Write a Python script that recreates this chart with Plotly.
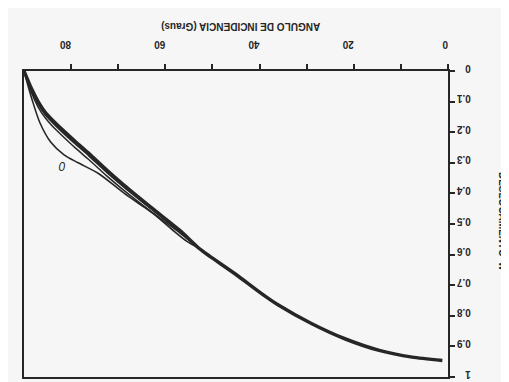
import plotly.graph_objects as go

# Curve data: angle of incidence (degrees) and displacement w
angle_a = [90, 88.5, 87, 85.5, 84, 82, 79, 76.2, 72.5, 68.8, 62.7, 57, 52.8, 50.6, 45, 39.8, 36.1, 29, 21.9, 14.6, 7.6, 1.2]
w_a     = [0, 0.055, 0.10, 0.135, 0.16, 0.19, 0.232, 0.27, 0.323, 0.373, 0.45, 0.52, 0.58, 0.605, 0.665, 0.725, 0.764, 0.825, 0.875, 0.913, 0.935, 0.946]

angle_a2 = [90, 88.5, 87, 85.5, 84, 82, 79, 76.2, 72.5, 68.8, 62.7, 57, 52.8]
w_a2     = [0, 0.06, 0.108, 0.143, 0.168, 0.198, 0.24, 0.278, 0.331, 0.38, 0.455, 0.523, 0.58]

angle_b = [90, 88.5, 87, 85.5, 84, 82, 79, 76.2, 72.5, 68.8, 62.7, 57, 52.8]
w_b     = [0, 0.068, 0.118, 0.153, 0.18, 0.21, 0.253, 0.29, 0.342, 0.39, 0.463, 0.528, 0.58]

angle_c = [90, 89.2, 88.3, 86.6, 84.3, 81.5, 78.5, 74.2, 68.7, 64.5, 61.6, 57.8, 55.5, 52.8]
w_c     = [0, 0.045, 0.093, 0.17, 0.233, 0.274, 0.3, 0.335, 0.4, 0.445, 0.478, 0.528, 0.556, 0.58]

x_ticks = [0, 10, 20, 30, 40, 50, 60, 70, 80]
x_ticktext = ["0", "", "20", "", "40", "", "60", "", "80"]
y_ticks = [0, 0.1, 0.2, 0.3, 0.4, 0.5, 0.6, 0.7, 0.8, 0.9, 1.0]
y_ticktext = ["0", "0.1", "0.2", "0.3", "0.4", "0.5", "0.6", "0.7", "0.8", "0.9", "1"]

ink = "#262626"
bg = "#f6f6f6"
font_family = "Liberation Sans, Arial, sans-serif"

fig = go.Figure()
fig.add_trace(go.Scatter(x=angle_c, y=w_c, mode="lines",
                         line=dict(color=ink, width=1.6, shape="spline", smoothing=0.8),
                         showlegend=False, hoverinfo="skip"))
fig.add_trace(go.Scatter(x=angle_b, y=w_b, mode="lines",
                         line=dict(color=ink, width=1.5, shape="spline", smoothing=0.6),
                         showlegend=False, hoverinfo="skip"))
fig.add_trace(go.Scatter(x=angle_a2, y=w_a2, mode="lines",
                         line=dict(color=ink, width=1.5, shape="spline", smoothing=0.6),
                         showlegend=False, hoverinfo="skip"))
fig.add_trace(go.Scatter(x=angle_a, y=w_a, mode="lines",
                         line=dict(color=ink, width=3.5, shape="spline", smoothing=0.6),
                         showlegend=False, hoverinfo="skip"))

fig.update_layout(
    width=509, height=382,
    margin=dict(l=16, r=69, t=63, b=10),
    paper_bgcolor=bg, plot_bgcolor=bg,
    font=dict(family=font_family, color=ink, size=10),
    xaxis=dict(range=[90, 0], side="top", showgrid=False, zeroline=False,
               showline=True, linecolor=ink, linewidth=1.6, mirror=True,
               ticks="outside", ticklen=5, tickwidth=1.5, tickcolor=ink,
               tickvals=x_ticks, ticktext=x_ticktext, tickangle=180,
               ticklabelstandoff=9,
               tickfont=dict(size=10, weight="bold")),
    yaxis=dict(range=[1, 0], side="right", showgrid=False, zeroline=False,
               showline=True, linecolor=ink, linewidth=1.6, mirror=True,
               ticks="outside", ticklen=5, tickwidth=1.5, tickcolor=ink,
               tickvals=y_ticks, ticktext=y_ticktext, tickangle=180,
               ticklabelstandoff=14,
               tickfont=dict(size=10, weight="bold")),
    annotations=[
        dict(text="ANGULO DE INCIDENCIA (Graus)", xref="paper", yref="paper",
             x=0.512, y=1, yshift=44, yanchor="middle", xanchor="center",
             showarrow=False, textangle=180,
             font=dict(size=10, weight="bold")),
        dict(text="DESLOCAMENTO  w", xref="paper", yref="paper",
             x=1, xshift=54, y=0.51, xanchor="center", yanchor="middle",
             showarrow=False, textangle=90,
             font=dict(size=10, weight="bold")),
        dict(text="<i>0</i>", xref="x", yref="y", x=82.0, y=0.31,
             showarrow=False, textangle=180, font=dict(size=12)),
    ],
)

fig.write_html("out.html")
